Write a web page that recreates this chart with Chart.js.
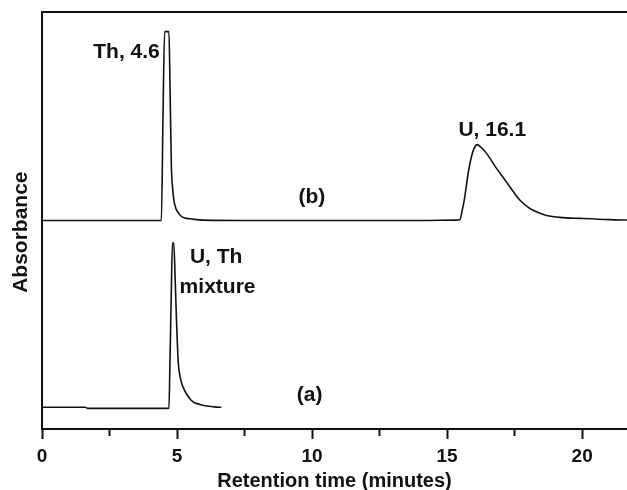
<!DOCTYPE html>
<html>
<head>
<meta charset="utf-8">
<script src="https://cdn.jsdelivr.net/npm/chart.js@4/dist/chart.umd.min.js"></script>
<style>
html,body{margin:0;padding:0;background:#fff;}
#wrap{width:627px;height:490px;position:relative;}
</style>
</head>
<body>
<div id="wrap"><canvas id="c"></canvas></div>
<script>
// Trace (b): separate standards
const timeB = [0, 2, 4.2, 4.42, 4.48, 4.54, 4.70, 4.745, 4.79, 4.84, 4.88, 4.95, 5.04, 5.2, 5.47, 5.95, 8, 10, 12, 14, 15.3, 15.47, 15.56, 15.65, 15.78, 15.9, 16.0, 16.11, 16.25, 16.46, 16.83, 17.2, 17.44, 17.69, 18.06, 18.37, 18.68, 19.3, 19.91, 21, 21.7];
const absB  = [50, 50, 50, 50, 75, 95.3, 95.3, 80, 63, 57.5, 55, 53, 51.9, 50.8, 50.4, 50.1, 50, 50, 50, 50, 50.1, 50.2, 52.5, 55.5, 61.4, 65.3, 67.3, 68.2, 67.6, 66.1, 62.5, 59.2, 57.0, 54.9, 52.9, 51.9, 51.2, 50.7, 50.5, 50.2, 50.1];
// Trace (a): U, Th mixture
const timeA = [0, 1.6, 1.7, 3, 4.5, 4.70, 4.74, 4.78, 4.83, 4.88, 4.93, 4.98, 5.04, 5.12, 5.22, 5.4, 5.59, 5.85, 6.09, 6.4, 6.64];
const absA  = [5.2, 5.2, 4.95, 4.95, 4.95, 5.0, 17, 30, 44.6, 44.6, 36, 26.1, 16.5, 12.3, 10.1, 7.9, 6.5, 5.9, 5.5, 5.3, 5.2];
// Axis range and ticks
const xMin = 0, xMax = 21.66, xStep = 2.5, xLabelEvery = 5;
const yMin = 0, yMax = 100;
// Peak labels (text, anchor time, anchor absorbance, alignment)
const annText  = ["Th, 4.6", "U, 16.1", "(b)", "U, Th", "mixture", "(a)"];
const annX     = [4.36, 16.67, 9.99, 6.45, 6.5, 9.91];
const annY     = [90.4, 71.7, 55.6, 41.2, 34.0, 8.15];
const annAlign = ["right", "center", "center", "center", "center", "center"];

const FONT = '"Liberation Sans", Arial, Helvetica, sans-serif';
const INK = '#111';

const toPts = (xs, ys) => xs.map((x, i) => ({x: x, y: ys[i]}));
const isMult = (v, m) => Math.abs(v / m - Math.round(v / m)) < 1e-6;

const labelPlugin = {
  id: 'peakLabels',
  afterDatasetsDraw(chart) {
    const ctx = chart.ctx, xs = chart.scales.x, ys = chart.scales.y;
    ctx.save();
    ctx.fillStyle = INK;
    ctx.font = 'bold 21px ' + FONT;
    ctx.textBaseline = 'middle';
    annText.forEach((t, i) => {
      ctx.textAlign = annAlign[i];
      ctx.fillText(t, xs.getPixelForValue(annX[i]), ys.getPixelForValue(annY[i]));
    });
    ctx.restore();
  }
};

new Chart(document.getElementById('c'), {
  type: 'line',
  data: {
    datasets: [
      {label: '(b)', data: toPts(timeB, absB), borderColor: INK, borderWidth: 1.6, pointRadius: 0, fill: false, cubicInterpolationMode: 'monotone'},
      {label: '(a)', data: toPts(timeA, absA), borderColor: INK, borderWidth: 1.6, pointRadius: 0, fill: false, cubicInterpolationMode: 'monotone'}
    ]
  },
  options: {
    responsive: true,
    maintainAspectRatio: false,
    animation: false,
    layout: {padding: 0},
    plugins: {legend: {display: false}, tooltip: {enabled: false}},
    scales: {
      x: {
        type: 'linear', position: 'bottom', min: xMin, max: xMax,
        afterFit: s => { s.height = 61; },
        border: {display: true, color: INK, width: 2},
        grid: {
          display: true, drawOnChartArea: false, drawTicks: true, tickLength: 10, tickWidth: 2,
          tickColor: c => (c.tick && isMult(c.tick.value, xStep)) ? INK : 'rgba(0,0,0,0)',
          tickBorderDash: c => (c.tick && isMult(c.tick.value, xLabelEvery)) ? [] : [6, 30]
        },
        ticks: {
          stepSize: xStep, includeBounds: false, autoSkip: false, maxRotation: 0, padding: 6,
          color: INK, font: {family: FONT, size: 19, weight: 'bold'},
          callback: v => isMult(v, xLabelEvery) ? String(Math.round(v)) : ''
        },
        title: {display: true, text: 'Retention time (minutes)', color: INK, font: {family: FONT, size: 20, weight: 'bold'}, padding: {top: 0, bottom: -3}}
      },
      x2: {
        type: 'linear', position: 'top', min: xMin, max: xMax,
        afterFit: s => { s.height = 12; },
        border: {display: true, color: INK, width: 2},
        grid: {display: false},
        ticks: {display: false}
      },
      y: {
        type: 'linear', position: 'left', min: yMin, max: yMax,
        afterFit: s => { s.width = 42; },
        border: {display: true, color: INK, width: 2},
        grid: {display: false},
        ticks: {display: false},
        title: {display: true, text: 'Absorbance    ', color: INK, font: {family: FONT, size: 21, weight: 'bold'}, padding: {top: 9, bottom: 0}}
      }
    }
  },
  plugins: [labelPlugin]
});
</script>
</body>
</html>
